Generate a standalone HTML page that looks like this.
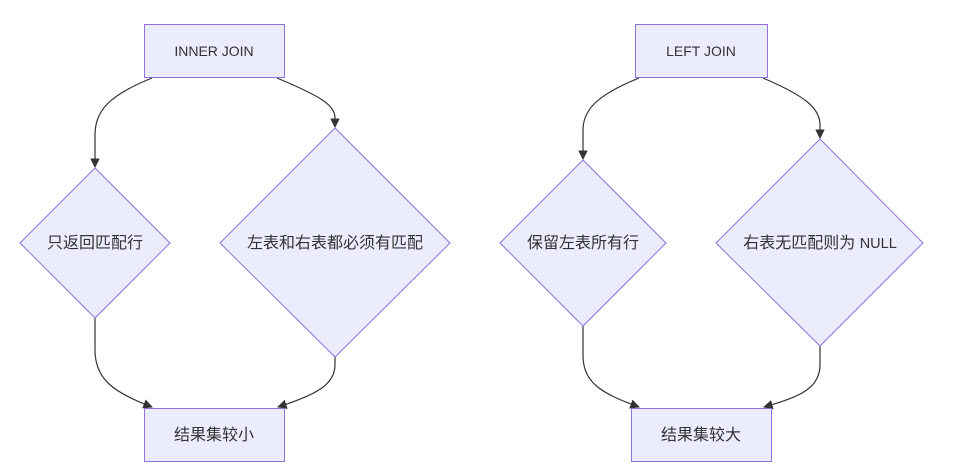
<!DOCTYPE html>
<html><head><meta charset="utf-8"><style>
html,body{margin:0;padding:0;background:#fff;width:960px;height:470px;overflow:hidden}
text{font-family:"Liberation Sans","Noto Sans CJK SC",sans-serif;font-size:16px;fill:#333}
text.l{font-size:14px}
</style></head><body>
<svg width="960" height="470" viewBox="0 0 960 470" xmlns="http://www.w3.org/2000/svg">
<defs><marker id="a" viewBox="0 0 10 10" refX="9" refY="5" markerWidth="8" markerHeight="8" orient="auto"><path d="M0,0 L10,5 L0,10 z" fill="#333"/></marker></defs>
<g fill="none" stroke="#333" stroke-width="1.2" marker-end="url(#a)">
<path d="M152,78 C110,95 95,110 95,135 L95,167"/>
<path d="M277,78 C320,96 335,105 335,118 L335,127"/>
<path d="M95,318 L95,350 C95,380 115,393 152,407"/>
<path d="M335,357 L335,365 C335,385 315,395 278,407"/>
<path d="M639,78 C597,95 583,110 583,130 L583,159"/>
<path d="M763,78 C805,96 820,108 820,125 L820,138"/>
<path d="M583,326 L583,355 C583,382 600,393 639,407"/>
<path d="M820,346 L820,365 C820,388 800,397 764,407"/>
</g>
<g fill="#ececff" stroke="#9370db" stroke-width="1">
<rect x="144.5" y="24.5" width="140" height="53"/>
<rect x="144.5" y="408.5" width="140" height="53"/>
<rect x="635.5" y="24.5" width="132" height="53"/>
<rect x="631.5" y="408.5" width="140" height="53"/>
<polygon points="95,168 170,243 95,318 20,243"/>
<polygon points="335,128 450,243 335,357 220,243"/>
<polygon points="583,160 666,243 583,326 500,243"/>
<polygon points="820,139 923,243 820,346 716,243"/>
</g>
<g text-anchor="middle">
<text class="l" x="214" y="56">INNER JOIN</text>
<text x="214" y="440">结果集较小</text>
<text class="l" x="701" y="56">LEFT JOIN</text>
<text x="701" y="440">结果集较大</text>
<text x="95" y="248">只返回匹配行</text>
<text x="335" y="248">左表和右表都必须有匹配</text>
<text x="583" y="248">保留左表所有行</text>
<text x="820" y="248">右表无匹配则为 <tspan font-size="14.5">NULL</tspan></text>
</g>
</svg>
</body></html>
